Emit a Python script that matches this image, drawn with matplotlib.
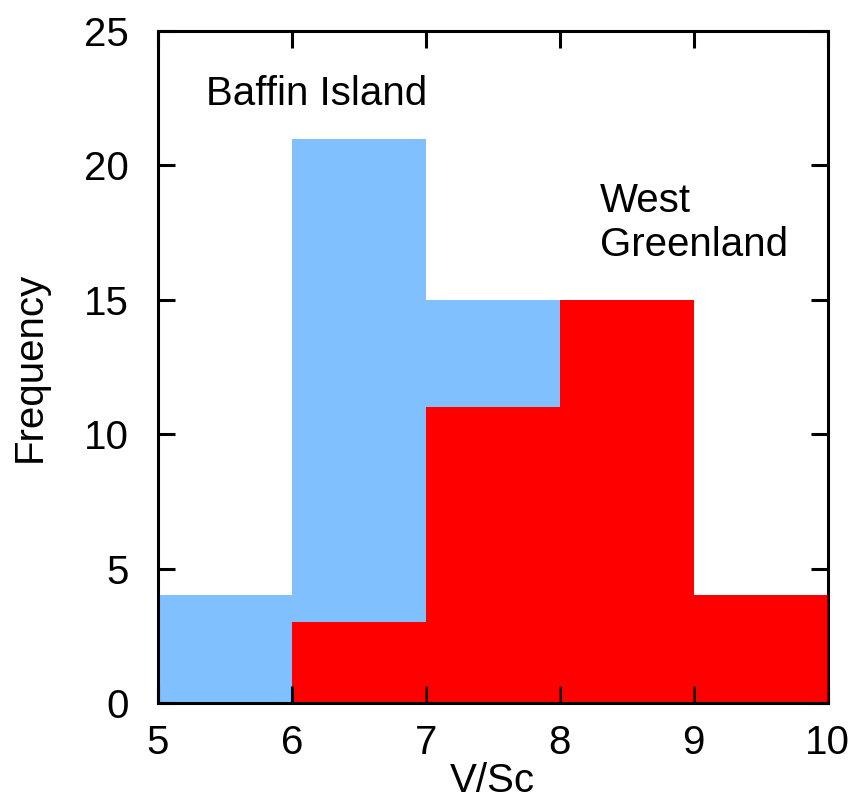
import matplotlib.pyplot as plt

plt.rcParams['font.family'] = ['Liberation Sans', 'DejaVu Sans']

# histogram bins (left edges, width 1) and counts per region
baffin_edges = [5, 6, 7]
baffin_counts = [4, 21, 15]
greenland_edges = [6, 7, 8, 9]
greenland_counts = [3, 11, 15, 4]

x_ticks = [5, 6, 7, 8, 9, 10]
y_ticks = [0, 5, 10, 15, 20, 25]

fig = plt.figure(figsize=(8.65, 8.06), dpi=100)
ax = fig.add_axes([0.1827, 0.1278, 0.774, 0.8337])

ax.bar(baffin_edges, baffin_counts, width=1.0, align='edge',
       color='#80C0FF', linewidth=0, zorder=1)
ax.bar(greenland_edges, greenland_counts, width=1.0, align='edge',
       color='#FF0000', linewidth=0, zorder=2)

ax.set_xlim(5, 10)
ax.set_ylim(0, 25)
ax.set_xticks(x_ticks)
ax.set_yticks(y_ticks)
ax.tick_params(direction='in', length=12, width=2.2, labelsize=29,
               top=True, right=True, zorder=5)
ax.tick_params(axis='y', pad=21)
ax.tick_params(axis='x', pad=15)
for s in ax.spines.values():
    s.set_linewidth(2.2)
    s.set_zorder(5)
ax.set_axisbelow(False)

ax.set_xlabel('V/Sc', fontsize=29, labelpad=0)
ax.set_ylabel('Frequency', fontsize=29, labelpad=25)

ax.text(5.36, 22.25, 'Baffin Island', fontsize=29, va='baseline', ha='left')
ax.text(8.30, 18.27, 'West', fontsize=29, va='baseline', ha='left')
ax.text(8.30, 16.63, 'Greenland', fontsize=29, va='baseline', ha='left')

fig.savefig('out.png', dpi=100)
